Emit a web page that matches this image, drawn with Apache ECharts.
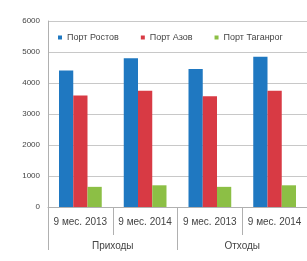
<!DOCTYPE html>
<html>
<head>
<meta charset="utf-8">
<script src="https://cdn.jsdelivr.net/npm/echarts@6/dist/echarts.min.js"></script>
<style>
  html, body { margin: 0; padding: 0; background: #fff; }
  #chart { width: 307px; height: 261px; }
</style>
</head>
<body>
<div id="chart"></div>
<script>
const periods = ["9 мес. 2013", "9 мес. 2014", "9 мес. 2013", "9 мес. 2014"];
const groups = ["Приходы", "Отходы"];
const rostov = [4400, 4800, 4450, 4850];
const azov = [3600, 3750, 3570, 3750];
const taganrog = [650, 700, 650, 700];
const yTicks = [0, 1000, 2000, 3000, 4000, 5000, 6000];

const textColor = "#444";
const lineColor = "#b0b0b0";
const font = "Liberation Sans";

function bar(name, data, color) {
  return {
    name,
    type: "bar",
    data,
    barGap: "0%",
    barCategoryGap: "34%",
    itemStyle: { color },
  };
}

const chart = echarts.init(document.getElementById("chart"));
chart.setOption({
  animation: false,
  grid: { left: 48, right: -1, top: 21, bottom: 54 },
  legend: {
    top: 33,
    left: 58,
    itemWidth: 4,
    itemHeight: 4,
    itemGap: 22,
    icon: "rect",
    textStyle: { color: textColor, fontSize: 9, fontFamily: font },
    padding: 0,
    data: ["Порт Ростов", "Порт Азов", "Порт Таганрог"],
  },
  xAxis: [
    {
      type: "category",
      data: periods,
      position: "bottom",
      axisLine: { lineStyle: { color: lineColor } },
      axisTick: { show: true, length: 28, lineStyle: { color: lineColor } },
      axisLabel: { color: textColor, fontSize: 10, fontFamily: font, margin: 10, interval: 0 },
    },
    {
      type: "category",
      data: groups,
      position: "bottom",
      offset: 28,
      axisLine: { show: false },
      axisTick: { show: true, length: 15, lineStyle: { color: lineColor } },
      axisLabel: { color: textColor, fontSize: 10, fontFamily: font, margin: 6, interval: 0 },
    },
  ],
  yAxis: {
    type: "value",
    min: yTicks[0],
    max: yTicks[yTicks.length - 1],
    interval: 1000,
    axisLine: { show: true, lineStyle: { color: lineColor } },
    axisTick: { show: false },
    axisLabel: {
      color: textColor, fontSize: 8, fontFamily: font, margin: 8,
      formatter: (v) => String(v),
    },
    splitLine: { lineStyle: { color: "#c8c8c8" } },
  },
  series: [
    bar("Порт Ростов", rostov, "#1f78c1"),
    bar("Порт Азов", azov, "#d83a44"),
    bar("Порт Таганрог", taganrog, "#8cbf45"),
  ],
});
</script>
</body>
</html>
